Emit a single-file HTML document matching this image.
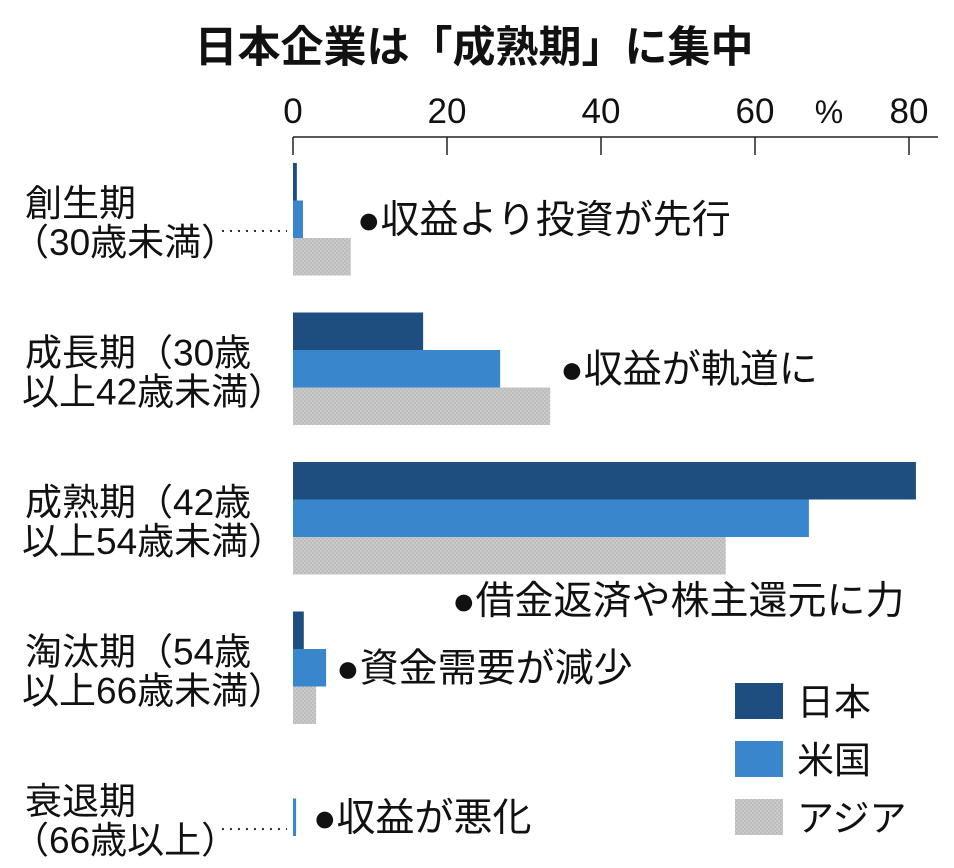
<!DOCTYPE html>
<html><head><meta charset="utf-8"><style>
body{margin:0;background:#fff;}
svg{display:block;font-family:"Liberation Sans","Noto Sans CJK JP",sans-serif;}
</style></head><body>
<svg id="chart" width="954" height="868" viewBox="0 0 954 868">
<defs>
<pattern id="hatch" width="4" height="4" patternUnits="userSpaceOnUse"><rect width="4" height="4" fill="#c9c9c9"/><rect width="2" height="2" fill="#bdbdbd"/><rect x="2" y="2" width="2" height="2" fill="#bdbdbd"/></pattern>
</defs>
<text x="474" y="62" text-anchor="middle" font-size="43" font-weight="bold" fill="#111">日本企業は「成熟期」に集中</text>
<g id="axis"></g>
<g id="bars"></g>
<g id="labels"></g>
</svg>
<script>
const categories=[["創生期","（30歳未満）"],["成長期（30歳","以上42歳未満）"],["成熟期（42歳","以上54歳未満）"],["淘汰期（54歳","以上66歳未満）"],["衰退期","（66歳以上）"]];
const seriesNames=["日本","米国","アジア"];
const japan=[0.5,16.9,80.9,1.4,0];
const usa=[1.3,26.9,67,4.3,0.4];
const asia=[7.5,33.4,56.2,3,0];
const ticks=[0,20,40,60,80];
const notes=["●収益より投資が先行","●収益が軌道に","●借金返済や株主還元に力","●資金需要が減少","●収益が悪化"];
const NS="http://www.w3.org/2000/svg";
const x0=293,pxPer=7.7;
function xs(v){return x0+v*pxPer;}
function gy(i){return 163+i*149.5;}
function mk(tag,attrs,parent){const e=document.createElementNS(NS,tag);for(const k in attrs)e.setAttribute(k,attrs[k]);parent.appendChild(e);return e;}
const ax=document.getElementById('axis');
let l=mk('line',{x1:x0,y1:137,x2:938,y2:137,stroke:'#222','stroke-width':1.5},ax);


ticks.forEach(t=>{
 let tl=mk('line',{x1:xs(t),y1:137,x2:xs(t),y2:155,stroke:'#222','stroke-width':1.5},ax);
 
 
 let tx=mk('text',{x:xs(t),y:123,'text-anchor':'middle','font-size':35,fill:'#111'},ax);
 
 
 tx.textContent=t;
});
let pc=mk('text',{x:829,y:123,'text-anchor':'middle','font-size':32,fill:'#111'},ax);


pc.textContent='%';
const colors=['#1e4e80','#3a86cc','url(#hatch)'];
const bh=37.5;
const bg=document.getElementById('bars');
const lg=document.getElementById('labels');
categories.forEach((c,i)=>{
 const y=gy(i);
 [japan,usa,asia].forEach((s,j)=>{
  if(s[i]<=0)return;
  let r=mk('rect',{x:x0,y:y+j*bh,width:Math.max(s[i]*pxPer,2),height:bh,fill:colors[j]},bg);
  
  
 });
 let t=mk('text',{x:25,y:y+53,'font-size':37,fill:'#111'},lg);
 
 
 let s1=mk('tspan',{x:25,dy:0},t);s1.textContent=c[0];
 let s2=mk('tspan',{x:(c[1][0]=='（')?12:22,dy:39},t);s2.textContent=c[1];
 if(i==0||i==4){
  let d=mk('line',{x1:222,y1:y+68,x2:287,y2:y+68,stroke:'#333','stroke-width':2,'stroke-dasharray':'2,6'},lg);
  
  
 }
 const mx=Math.max(japan[i],usa[i],asia[i]);
 let nx,ny;
 if(i==2){nx=452;ny=y+152;}else{nx=xs(mx)+10;ny=y+70;}
 if(i==0){nx=357;ny=y+70;}
 if(i==4){nx=313;ny=y+70;}
 let n=mk('text',{x:nx,y:ny,'font-size':39,fill:'#111'},lg);
 
 
 n.textContent=notes[i];
});
seriesNames.forEach((nm,j)=>{
 const y=683+j*58;
 let r=mk('rect',{x:735,y:y,width:48,height:36,fill:colors[j]},lg);
 
 
 let t=mk('text',{x:797,y:y+32,'font-size':37,fill:'#111'},lg);
 
 
 t.textContent=nm;
});
</script>
</body></html>
